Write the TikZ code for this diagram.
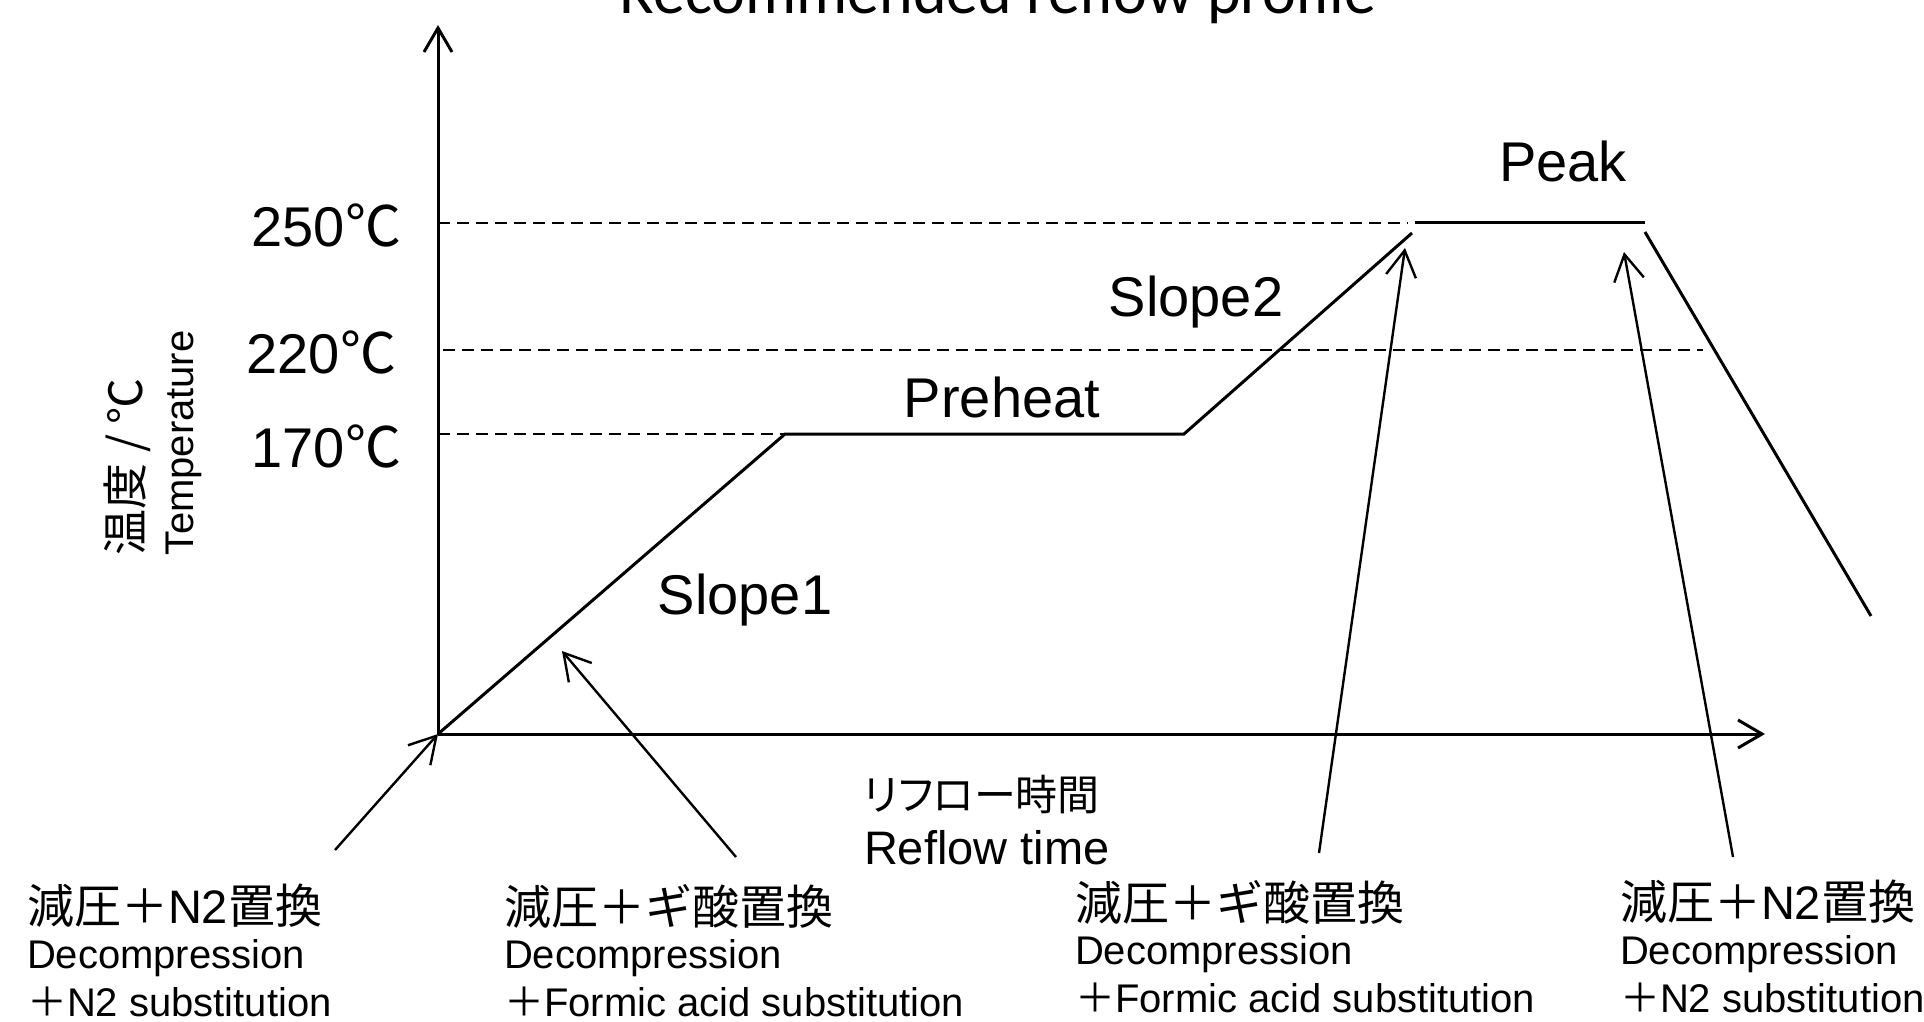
\documentclass[tikz,border=0pt]{standalone}
\usepackage{fontspec}
\setmainfont{Liberation Sans}
\newfontfamily\cjk{Noto Sans CJK JP}
\newfontfamily\cjkp{Noto Sans CJK JP}[RawFeature=+palt]
\newfontfamily\titlefont{Carlito}
\usetikzlibrary{arrows.meta}
\begin{document}
\begin{tikzpicture}[x=0.5pt,y=-0.5pt,
  every node/.style={inner sep=0pt, outer sep=0pt},
  axisline/.style={line width=1.5pt, -{Straight Barb[length=12pt,width=14pt]}},
  curveline/.style={line width=1.5pt},
  guide/.style={line width=1.1pt, dash pattern=on 6pt off 3.5pt},
  callout/.style={line width=1.2pt, -{Straight Barb[length=13pt,width=15pt]}},
  biglbl/.style={font=\fontsize{28}{30}\selectfont},
  ytick/.style={font=\fontsize{28}{30}\selectfont, anchor=base east},
  jplbl/.style={font=\cjk\fontsize{23.5}{26}\selectfont, anchor=west},
  enlbl/.style={font=\fontsize{20}{24}\selectfont, anchor=base west},
  titlestyle/.style={font=\titlefont\fontsize{32}{36}\selectfont, anchor=base}
]
\fill[white] (0,0) rectangle (1924,1022);
\useasboundingbox (0,0) rectangle (1924,1022);

% title (cropped at the top)
\node[titlestyle] (title) at (998,14) {Recommended reflow profile};

% key points
\coordinate (O) at (438,734);
\coordinate (Ytop) at (438,25);
\coordinate (Xend) at (1765,734);
\coordinate (S1end) at (785,434);
\coordinate (PHend) at (1184,434);
\coordinate (S2end) at (1412,233);
\coordinate (PK1) at (1415,223);
\coordinate (PK2) at (1645,223);
\coordinate (CL1) at (1645,232);
\coordinate (CL2) at (1871,616);

% guide lines
\coordinate (G250a) at (438,223);
\coordinate (G250b) at (1408,223);
\coordinate (G220a) at (443,350);
\coordinate (G220b) at (1703,350);
\coordinate (G170a) at (438,434);
\draw[guide] (G250a) -- (G250b);
\draw[guide] (G220a) -- (G220b);
\draw[guide] (G170a) -- (S1end);

% axes
\draw[axisline] (O) -- (Ytop);
\draw[axisline] (O) -- (Xend);

% profile
\draw[curveline] (O) -- (S1end) -- (PHend) -- (S2end);
\draw[curveline] (PK1) -- (PK2);
\draw[curveline] (CL1) -- (CL2);

% y tick labels
\node[ytick] (t250) at (401,247) {250{\cjk ℃}};
\node[ytick] (t220) at (396,373) {220{\cjk ℃}};
\node[ytick] (t170) at (401,467) {170{\cjk ℃}};

% y axis title
\node[rotate=90, anchor=base west, font=\cjk\fontsize{23}{26}\selectfont] (yjp) at (142,555) {温度 / ℃};
\node[rotate=90, anchor=base west, font=\fontsize{20}{24}\selectfont] (yen) at (193,555) {Temperature};

% segment labels
\node[biglbl, anchor=base] (lslope1) at (745,614) {Slope1};
\node[biglbl, anchor=base] (lpre) at (1002,417) {Preheat};
\node[biglbl, anchor=base] (lslope2) at (1196,316) {Slope2};
\node[biglbl, anchor=base] (lpeak) at (1563,182) {Peak};

% x axis title
\node[anchor=west, font=\cjkp\fontsize{21}{24}\selectfont] (xjp) at (864,795) {リフロー時間};
\node[anchor=base west, font=\fontsize{23.5}{26}\selectfont] (xen) at (864,864) {Reflow time};

% bottom blocks
\node[jplbl] (b1a) at (27,906) {減圧＋{\rmfamily N2}置換};
\node[enlbl] (b1b) at (27,968) {Decompression};
\node[enlbl] (b1c) at (27,1016) {{\cjk ＋}N2 substitution};

\node[jplbl] (b2a) at (504,906) {減圧＋ギ酸置換};
\node[enlbl] (b2b) at (504,968) {Decompression};
\node[enlbl] (b2c) at (504,1016) {{\cjk ＋}Formic acid substitution};

\node[jplbl] (b3a) at (1075,902) {減圧＋ギ酸置換};
\node[enlbl] (b3b) at (1075,964) {Decompression};
\node[enlbl] (b3c) at (1075,1012) {{\cjk ＋}Formic acid substitution};

\node[jplbl] (b4a) at (1620,902) {減圧＋{\rmfamily N2}置換};
\node[enlbl] (b4b) at (1620,964) {Decompression};
\node[enlbl] (b4c) at (1620,1012) {{\cjk ＋}N2 substitution};

% callout arrows
\coordinate (A1s) at (335,850);
\coordinate (A2s) at (736,857);
\coordinate (A2e) at (562,651);
\coordinate (A3s) at (1319,853);
\coordinate (A3e) at (1405,248);
\coordinate (A4s) at (1733,857);
\coordinate (A4e) at (1624,252);
\draw[callout] (A1s) -- (O);
\draw[callout] (A2s) -- (A2e);
\draw[callout] (A3s) -- (A3e);
\draw[callout] (A4s) -- (A4e);
\end{tikzpicture}
\end{document}
